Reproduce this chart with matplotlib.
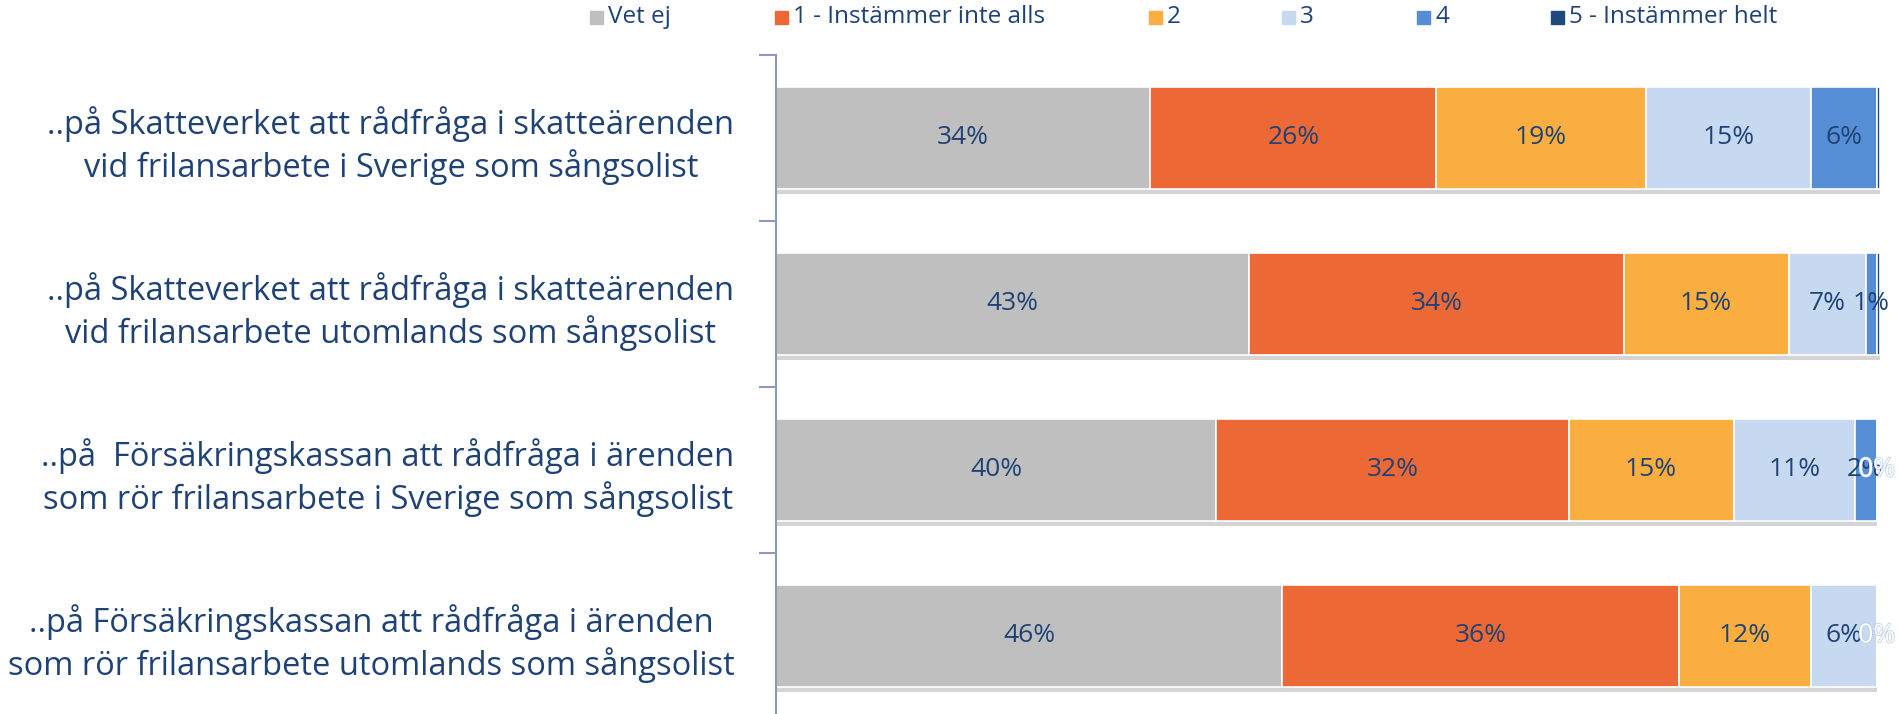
import matplotlib.pyplot as plt
import matplotlib.patheffects as pe
from matplotlib.patches import Rectangle
import numpy as np

plt.rcParams['font.family'] = ['Open Sans', 'DejaVu Sans']

# data
questions = [
    "..på Skatteverket att rådfråga i skatteärenden\nvid frilansarbete i Sverige som sångsolist",
    "..på Skatteverket att rådfråga i skatteärenden\nvid frilansarbete utomlands som sångsolist",
    "..på  Försäkringskassan att rådfråga i ärenden\nsom rör frilansarbete i Sverige som sångsolist",
    "..på Försäkringskassan att rådfråga i ärenden\nsom rör frilansarbete utomlands som sångsolist",
]
categories = ["Vet ej", "1 - Instämmer inte alls", "2", "3", "4", "5 - Instämmer helt"]
vet_ej = [34, 43, 40, 46]
svar_1 = [26, 34, 32, 36]
svar_2 = [19, 15, 15, 12]
svar_3 = [15, 7, 11, 6]
svar_4 = [6, 1, 2, 0]
svar_5 = [0.3, 0.3, 0, 0]
colors = ["#BFBFBF", "#EC6936", "#FAAE3F", "#C6D9F0", "#558ED5", "#1F497D"]

series = [vet_ej, svar_1, svar_2, svar_3, svar_4, svar_5]
txt = "#1F4275"

fig = plt.figure(figsize=(18.99, 7.14), dpi=100)
ax = fig.add_axes([0.4087, -5 / 714, 0.5813, 1 - 55 / 714 + 5 / 714])

y = np.arange(len(questions))
left = np.zeros(len(questions))
for i, vals in enumerate(series):
    vals = np.array(vals, dtype=float)
    # soft shadow under the bars
    ax.barh(y + 0.03, vals, left=left, height=0.62, color="#D4D4D4", zorder=1)
    ax.barh(y, vals, left=left, height=0.62, color=colors[i],
            edgecolor="white", linewidth=1.2, zorder=2)
    for j, v in enumerate(vals):
        if v >= 1:
            ax.text(left[j] + v / 2, y[j], f"{v:.0f}%", ha="center", va="center",
                    fontsize=19, color=txt, zorder=3)
        elif i == 5 and v == 0:
            # zero labels of the dark series are white
            ax.text(left[j] + v / 2, y[j], "0%", ha="center", va="center",
                    fontsize=19, color="white", zorder=3,
                    path_effects=[pe.withStroke(linewidth=1, foreground="#B8CBE4")])
    left += vals

ax.set_xlim(0, 100.3)
ax.set_ylim(len(questions) - 0.5, -0.5)
ax.set_yticks(y)
ax.set_yticklabels(questions, fontsize=23.5, color=txt, multialignment="center", linespacing=1.27)
ax.set_yticks(np.arange(len(questions) + 1) - 0.5, minor=True)
ax.tick_params(axis="y", which="major", length=0, pad=30)
ax.tick_params(axis="y", which="minor", length=12, color="#8C9BB5", width=1.5)
ax.set_xticks([])
for s in ["top", "right", "bottom"]:
    ax.spines[s].set_visible(False)
ax.spines["left"].set_color("#8C9BB5")
ax.spines["left"].set_linewidth(1.5)

# legend
leg_x = [590, 775, 1149, 1282, 1417, 1551]
for k, name in enumerate(categories):
    fig.patches.append(Rectangle((leg_x[k] / 1899, 1 - 24 / 714), 13 / 1899, 13 / 714,
                                 transform=fig.transFigure, color=colors[k]))
    fig.text((leg_x[k] + 18) / 1899, 1 - 17 / 714, name, ha="left", va="center",
             fontsize=17.5, color=txt)

fig.savefig("out.png", dpi=100)
